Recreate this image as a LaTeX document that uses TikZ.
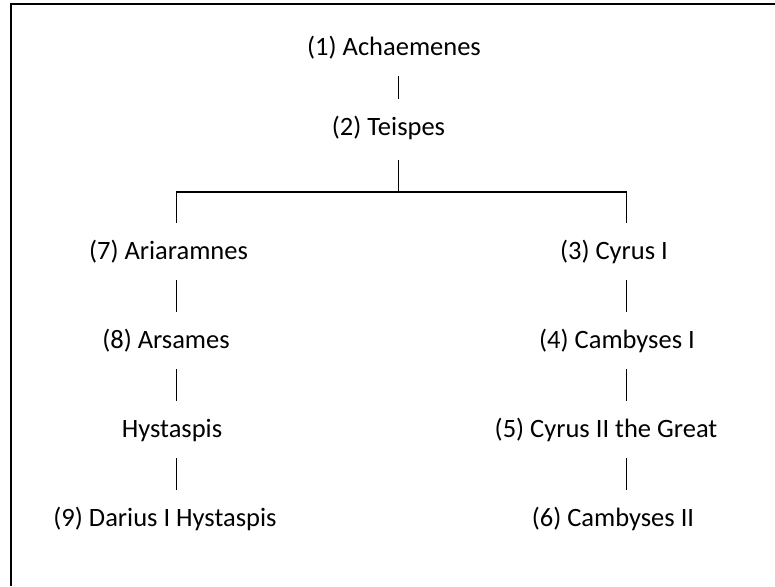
\documentclass[tikz,border=0pt]{standalone}
\usepackage{fontspec}
\setmainfont{Carlito}
\usetikzlibrary{calc}
\begin{document}
\begin{tikzpicture}[x=1pt,y=-1pt,
  lbl/.style={inner sep=0pt, anchor=base, font=\fontsize{26.5}{30}\selectfont, text height=20pt, text depth=5pt},
  link/.style={line width=1.6pt, line join=miter},
  frame/.style={line width=1.8pt}]
\useasboundingbox (0,0) rectangle (775,586);
\draw[frame] (775,4) -- (11,4) -- (11,586);
\coordinate (colL) at (176.5,0);
\coordinate (colM) at (398.5,0);
\coordinate (colR) at (626.5,0);
\coordinate (bar) at (398.5,192);
\node[lbl] (n1) at (394,56) {(1) Achaemenes};
\node[lbl] (n2) at (388.5,135) {(2) Teispes};
\node[lbl] (n7) at (168.5,259) {(7) Ariaramnes};
\node[lbl] (n8) at (166,348) {(8) Arsames};
\node[lbl] (hy) at (172,437) {Hystaspis};
\node[lbl] (n9) at (165,526) {(9) Darius I Hystaspis};
\node[lbl] (n3) at (614,259) {(3) Cyrus I};
\node[lbl] (n4) at (617,348) {(4) Cambyses I};
\node[lbl] (n5) at (606,437) {(5) Cyrus II the Great};
\node[lbl] (n6) at (613,526) {(6) Cambyses II};
\draw[link] ($(n1.south -| colM)+(0,15)$) -- ($(n2.north -| colM)+(0,-16)$);
\draw[link] ($(n2.south -| colM)+(0,20)$) -- (bar);
\draw[link] ($(n7.north -| colL)+(0,-16)$) |- (bar) -| ($(n3.north -| colR)+(0,-16)$);
\draw[link] ($(n7.south -| colL)+(0,16)$) -- ($(n8.north -| colL)+(0,-16)$);
\draw[link] ($(n8.south -| colL)+(0,16)$) -- ($(hy.north -| colL)+(0,-16)$);
\draw[link] ($(hy.south -| colL)+(0,16)$) -- ($(n9.north -| colL)+(0,-16)$);
\draw[link] ($(n3.south -| colR)+(0,16)$) -- ($(n4.north -| colR)+(0,-16)$);
\draw[link] ($(n4.south -| colR)+(0,16)$) -- ($(n5.north -| colR)+(0,-16)$);
\draw[link] ($(n5.south -| colR)+(0,16)$) -- ($(n6.north -| colR)+(0,-16)$);
\end{tikzpicture}
\end{document}
